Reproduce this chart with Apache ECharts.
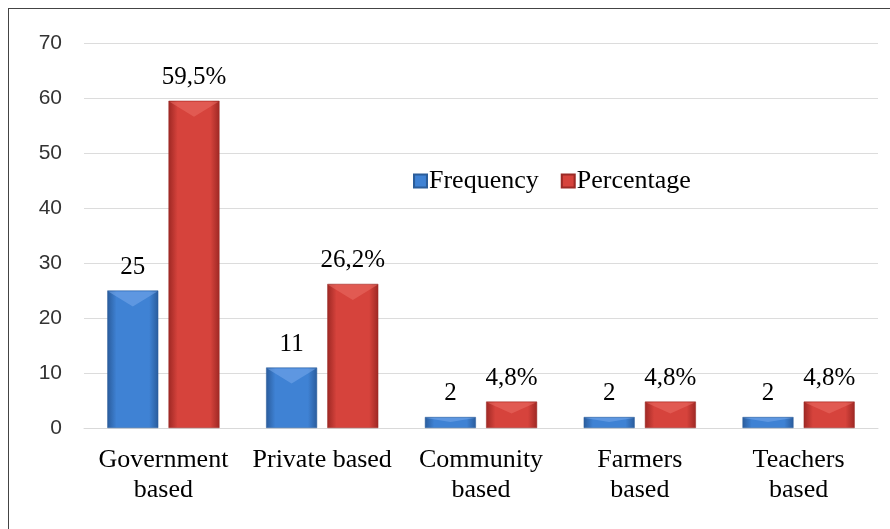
<!DOCTYPE html>
<html><head><meta charset="utf-8">
<script src="https://cdn.jsdelivr.net/npm/echarts@6/dist/echarts.min.js"></script>
<style>
html,body{margin:0;padding:0;background:#fff;}
#frame{position:absolute;left:8px;top:8px;width:900px;height:540px;border-left:1px solid #444;border-top:1px solid #444;box-sizing:border-box;}
#c{position:absolute;left:0;top:0;width:890px;height:529px;}
</style></head>
<body>
<div id="frame"></div>
<div id="c"></div>
<script>
const categories = ['Government\nbased', 'Private based', 'Community\nbased', 'Farmers\nbased', 'Teachers\nbased'];
const frequency = [25, 11, 2, 2, 2];
const percentage = [59.5, 26.2, 4.8, 4.8, 4.8];
const percentageLabels = ['59,5%', '26,2%', '4,8%', '4,8%', '4,8%'];
const yTicks = [0, 10, 20, 30, 40, 50, 60, 70];

const font = '"Liberation Serif", "Times New Roman", serif';
const BAR_W = 51, OFFSET = 30.6;
function grad(dark, light) {
  return new echarts.graphic.LinearGradient(0, 0, 1, 0, [
    {offset: 0, color: dark}, {offset: 0.18, color: light}, {offset: 0.5, color: light},
    {offset: 0.82, color: light}, {offset: 1, color: dark}
  ]);
}
function bevel(values, sign, color) {
  return {
    type: 'custom', silent: true, z: 5,
    data: values.map((v, i) => [i, v]),
    renderItem: (params, api) => {
      const p = api.coord([api.value(0), api.value(1)]);
      const base = api.coord([api.value(0), 0]);
      const cx = p[0] + sign * OFFSET;
      const h = base[1] - p[1];
      const d = Math.min(16, h * 0.45);
      const x0 = cx - BAR_W / 2 + 1, x1 = cx + BAR_W / 2 - 1;
      return {
        type: 'polygon',
        shape: {points: [[x0, p[1] + 1], [x1, p[1] + 1], [cx, p[1] + d]]},
        style: {fill: color}
      };
    }
  };
}
const chart = echarts.init(document.getElementById('c'));
chart.setOption({
  animation: false,
  textStyle: {fontFamily: font},
  legend: {
    data: ['Frequency', 'Percentage'],
    left: 408, top: 163,
    itemWidth: 13, itemHeight: 13, itemGap: 22,
    icon: 'rect',
    textStyle: {fontFamily: font, fontSize: 26, color: '#000', padding: [0, 0, 0, -3]}
  },
  grid: {left: 84, right: 12, top: 43, bottom: 101},
  xAxis: {
    type: 'category', data: categories,
    axisTick: {show: false},
    axisLine: {show: true, lineStyle: {color: '#d9d9d9'}},
    axisLabel: {fontFamily: font, fontSize: 26, color: '#000', margin: 17, lineHeight: 30, interval: 0}
  },
  yAxis: {
    type: 'value', min: 0, max: 70, interval: 10,
    axisLine: {show: false}, axisTick: {show: false},
    splitLine: {lineStyle: {color: '#dcdcdc'}},
    axisLabel: {fontFamily: '"Liberation Sans", Arial, sans-serif', fontSize: 21, color: '#333', margin: 22,
      formatter: v => yTicks.includes(v) ? String(v) : ''}
  },
  series: [
    {
      name: 'Frequency', type: 'bar', data: frequency,
      barWidth: BAR_W, barGap: '20%',
      itemStyle: {color: grad('#2a5c9c', '#3f82d4'), borderColor: '#2b5d9a', borderWidth: 0.5},
      label: {show: true, position: 'top', distance: 11, fontFamily: font, fontSize: 25, color: '#000'}
    },
    {
      name: 'Percentage', type: 'bar', data: percentage,
      barWidth: BAR_W,
      itemStyle: {color: grad('#9e2824', '#d6433c'), borderColor: '#9b2a26', borderWidth: 0.5},
      label: {show: true, position: 'top', distance: 11, fontFamily: font, fontSize: 25, color: '#000',
        formatter: p => percentageLabels[p.dataIndex]}
    },
    bevel(frequency, -1, 'rgba(120,170,235,0.55)'),
    bevel(percentage, 1, 'rgba(235,110,100,0.55)')
  ]
});
</script>
</body></html>
